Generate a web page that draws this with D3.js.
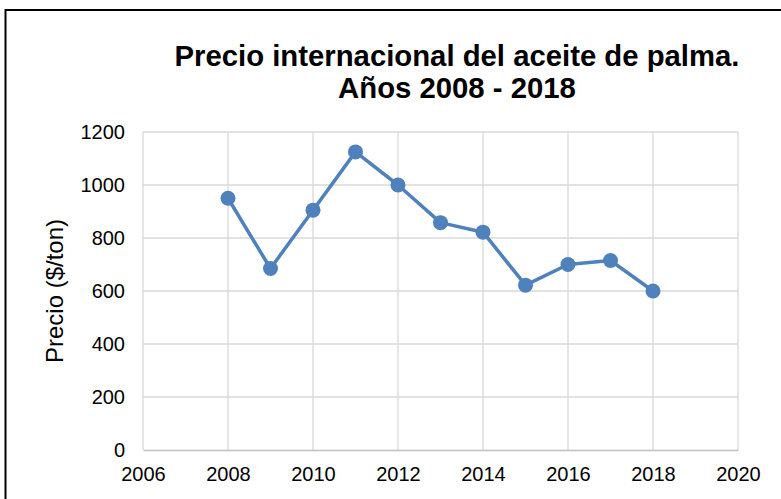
<!DOCTYPE html>
<html>
<head>
<meta charset="utf-8">
<script src="https://cdn.jsdelivr.net/npm/d3@7"></script>
<style>
  body { margin: 0; background: #fff; }
  svg { display: block; font-family: "Liberation Sans", Arial, sans-serif; }
</style>
</head>
<body>
<div id="chart"></div>
<script>
  // Data
  const years = [2008, 2009, 2010, 2011, 2012, 2013, 2014, 2015, 2016, 2017, 2018];
  const prices = [950, 685, 905, 1125, 1000, 858, 822, 622, 700, 715, 600];
  const xTicks = [2006, 2008, 2010, 2012, 2014, 2016, 2018, 2020];
  const yTicks = [0, 200, 400, 600, 800, 1000, 1200];

  const width = 781, height = 499;
  const margin = { left: 143, right: 781 - 738, top: 132, bottom: 499 - 450 };
  const font = '"Liberation Sans", Arial, sans-serif';

  const svg = d3.select('#chart')
    .append('svg')
    .attr('width', width)
    .attr('height', height);

  // Outer frame
  svg.append('rect')
    .attr('x', 5.5)
    .attr('y', 10)
    .attr('width', 800)
    .attr('height', 600)
    .attr('fill', 'none')
    .attr('stroke', '#000')
    .attr('stroke-width', 2);

  const x = d3.scaleLinear()
    .domain([2006, 2020])
    .range([margin.left, width - margin.right]);

  const y = d3.scaleLinear()
    .domain([0, 1200])
    .range([height - margin.bottom, margin.top]);

  // Gridlines
  svg.append('g')
    .selectAll('line')
    .data(yTicks.filter(d => d > 0))
    .enter()
    .append('line')
    .attr('x1', x(2006))
    .attr('x2', x(2020))
    .attr('y1', d => y(d))
    .attr('y2', d => y(d))
    .attr('stroke', '#d9d9d9')
    .attr('stroke-width', 1.3);

  svg.append('g')
    .selectAll('line')
    .data(xTicks)
    .enter()
    .append('line')
    .attr('x1', d => x(d))
    .attr('x2', d => x(d))
    .attr('y1', y(0))
    .attr('y2', y(1200))
    .attr('stroke', '#d9d9d9')
    .attr('stroke-width', 1.3);

  // Axes
  const xAxis = svg.append('g')
    .attr('transform', `translate(0,${y(0)})`)
    .call(d3.axisBottom(x).tickValues(xTicks).tickFormat(d3.format('d')).tickSize(0).tickPadding(17));
  xAxis.select('.domain').attr('stroke', '#bfbfbf').attr('stroke-width', 1.5);
  xAxis.selectAll('text')
    .attr('font-size', 20)
    .attr('fill', '#000')
    .attr('font-family', font);

  const yAxis = svg.append('g')
    .attr('transform', `translate(${x(2006)},0)`)
    .call(d3.axisLeft(y).tickValues(yTicks).tickFormat(d3.format('d')).tickSize(0).tickPadding(18));
  yAxis.select('.domain').remove();
  yAxis.selectAll('text')
    .attr('font-size', 20)
    .attr('fill', '#000')
    .attr('font-family', font);

  // Y axis title
  svg.append('text')
    .attr('transform', `translate(63,${(y(0) + y(1200)) / 2}) rotate(-90)`)
    .attr('text-anchor', 'middle')
    .attr('font-size', 24)
    .attr('fill', '#000')
    .text('Precio ($/ton)');

  // Chart title
  const title = svg.append('text')
    .attr('text-anchor', 'middle')
    .attr('font-size', 29.3)
    .attr('font-weight', 'bold')
    .attr('fill', '#000');
  title.append('tspan').attr('x', 457).attr('y', 66).text('Precio internacional del aceite de palma.');
  title.append('tspan').attr('x', 457).attr('y', 98).text('Años 2008 - 2018');

  // Line + markers
  const line = d3.line()
    .x((d, i) => x(years[i]))
    .y(d => y(d));

  svg.append('path')
    .datum(prices)
    .attr('d', line)
    .attr('fill', 'none')
    .attr('stroke', '#4f81bd')
    .attr('stroke-width', 3.5)
    .attr('stroke-linejoin', 'round');

  svg.append('g')
    .selectAll('circle')
    .data(prices)
    .enter()
    .append('circle')
    .attr('cx', (d, i) => x(years[i]))
    .attr('cy', d => y(d))
    .attr('r', 7.5)
    .attr('fill', '#4f81bd');
</script>
</body>
</html>
